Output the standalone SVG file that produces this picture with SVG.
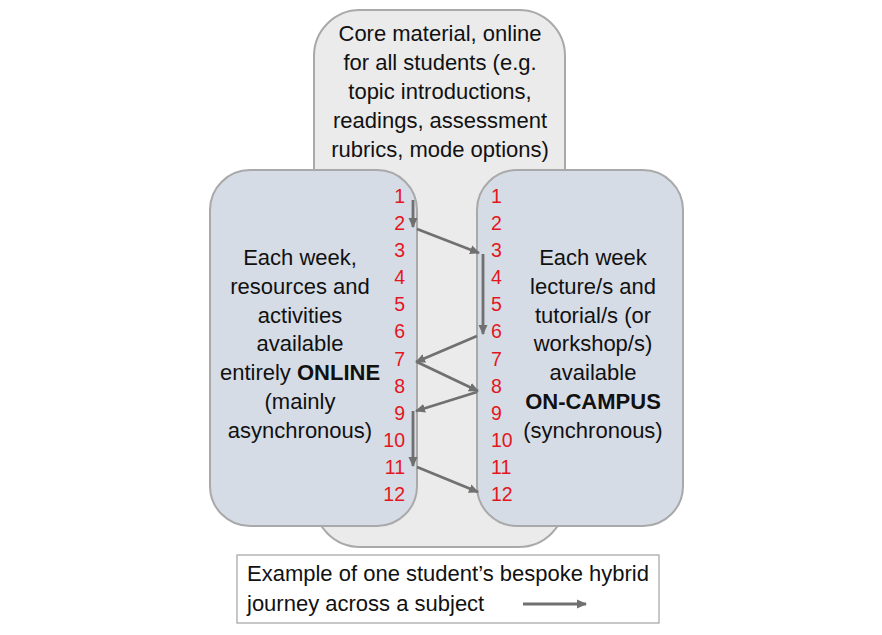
<svg xmlns="http://www.w3.org/2000/svg" width="882" height="635" viewBox="0 0 882 635">
<style>
.t{font-family:"Liberation Sans",Arial,sans-serif;font-size:22px;fill:#111;text-anchor:middle}
.n{font-family:"Liberation Sans",Arial,sans-serif;font-size:19.5px;fill:#e3161e}
.b{font-weight:bold}
.c{fill:none;stroke:#707070;stroke-width:2.8}
</style>
<defs>
<marker id="ah" markerUnits="userSpaceOnUse" markerWidth="10" markerHeight="10" viewBox="0 0 10 10" refX="9" refY="5" orient="auto">
<path d="M0,0.5 L10,5 L0,9.5 Z" fill="#707070"/>
</marker>
</defs>
<rect x="0" y="0" width="882" height="635" fill="#fff"/>
<g id="core">
<rect x="314" y="10" width="251" height="537" rx="46" fill="#ebebeb" stroke="#a9a9a9" stroke-width="2"/>
<text class="t" x="440" y="41">Core material, online</text>
<text class="t" x="440" y="70">for all students (e.g.</text>
<text class="t" x="440" y="99">topic introductions,</text>
<text class="t" x="440" y="128">readings, assessment</text>
<text class="t" x="440" y="157">rubrics, mode options)</text>
</g>
<g id="online">
<rect x="210" y="170" width="207" height="356" rx="40" fill="#d6dce5" stroke="#a9a9a9" stroke-width="2"/>
<text class="t" x="300" y="265">Each week,</text>
<text class="t" x="300" y="294">resources and</text>
<text class="t" x="300" y="323">activities</text>
<text class="t" x="300" y="351">available</text>
<text class="t" x="300" y="380">entirely <tspan class="b">ONLINE</tspan></text>
<text class="t" x="300" y="409">(mainly</text>
<text class="t" x="300" y="438">asynchronous)</text>
<g class="n" text-anchor="end">
<text x="405" y="203">1</text>
<text x="405" y="230">2</text>
<text x="405" y="257">3</text>
<text x="405" y="284">4</text>
<text x="405" y="311">5</text>
<text x="405" y="338">6</text>
<text x="405" y="366">7</text>
<text x="405" y="393">8</text>
<text x="405" y="420">9</text>
<text x="405" y="447">10</text>
<text x="405" y="474">11</text>
<text x="405" y="501">12</text>
</g>
</g>
<g id="oncampus">
<rect x="477" y="170" width="206" height="356" rx="40" fill="#d6dce5" stroke="#a9a9a9" stroke-width="2"/>
<text class="t" x="593" y="265">Each week</text>
<text class="t" x="593" y="294">lecture/s and</text>
<text class="t" x="593" y="323">tutorial/s (or</text>
<text class="t" x="593" y="351">workshop/s)</text>
<text class="t" x="593" y="380">available</text>
<text class="t b" x="593" y="409">ON-CAMPUS</text>
<text class="t" x="593" y="438">(synchronous)</text>
<g class="n">
<text x="491" y="203">1</text>
<text x="491" y="230">2</text>
<text x="491" y="257">3</text>
<text x="491" y="284">4</text>
<text x="491" y="311">5</text>
<text x="491" y="338">6</text>
<text x="491" y="366">7</text>
<text x="491" y="393">8</text>
<text x="491" y="420">9</text>
<text x="491" y="447">10</text>
<text x="491" y="474">11</text>
<text x="491" y="501">12</text>
</g>
</g>
<g id="connectors">
<line class="c" x1="413" y1="200" x2="413" y2="227" marker-end="url(#ah)"/>
<line class="c" x1="417" y1="229" x2="479" y2="253" marker-end="url(#ah)"/>
<line class="c" x1="483" y1="254" x2="483" y2="334" marker-end="url(#ah)"/>
<line class="c" x1="477" y1="336" x2="416" y2="362" marker-end="url(#ah)"/>
<line class="c" x1="417" y1="362" x2="478" y2="391" marker-end="url(#ah)"/>
<line class="c" x1="477" y1="392" x2="416" y2="411" marker-end="url(#ah)"/>
<line class="c" x1="413" y1="411" x2="413" y2="466" marker-end="url(#ah)"/>
<line class="c" x1="417" y1="467" x2="478" y2="492" marker-end="url(#ah)"/>
</g>
<g id="legend">
<rect x="237" y="555" width="422" height="68" fill="#fff" stroke="#a9a9a9" stroke-width="1.3"/>
<text class="t" x="247" y="581" style="text-anchor:start">Example of one student’s bespoke hybrid</text>
<text class="t" x="247" y="611" style="text-anchor:start">journey across a subject</text>
<line class="c" x1="523" y1="604" x2="586" y2="604" marker-end="url(#ah)"/>
</g>
</svg>
